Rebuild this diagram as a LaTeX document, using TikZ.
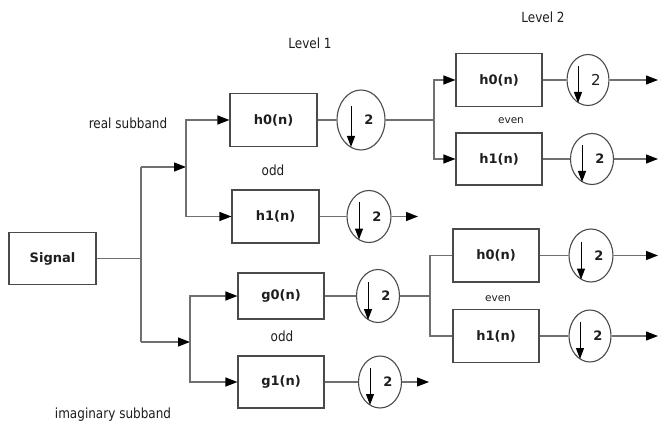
\documentclass[tikz,border=0pt]{standalone}
\usepackage{fontspec}
\setmainfont{DejaVu Sans}
\newfontfamily\lblfont[FakeStretch=0.86]{DejaVu Sans}
\usetikzlibrary{arrows.meta,shapes.geometric,calc}
\definecolor{boxgray}{HTML}{4A4A4A}
\definecolor{linegray}{HTML}{707070}
\definecolor{txt}{HTML}{1E1E1E}
\newcommand\downsym[3]{%
  \draw[dnarr] ($(#1.center)+(-10,-14)$) -- ($(#1.center)+(-10,#2)$);
  \node[twolbl,#3] (#1two) at ($(#1.center)+(8,0)$) {2};}
\begin{document}
\begin{tikzpicture}[x=1pt,y=-1pt,
  filt/.style={draw=boxgray, line width=1.1pt, minimum width=87pt, minimum height=53pt, inner sep=0pt, text=txt, font=\bfseries\fontsize{13}{15}\selectfont},
  dec/.style={ellipse, draw=boxgray, line width=1.1pt, minimum width=44pt, minimum height=53pt, inner sep=0pt},
  wire/.style={draw=linegray, line width=1.2pt},
  arr/.style={wire, -{Triangle[length=12pt,width=9pt,color=black]}},
  dnarr/.style={draw=black, line width=1pt, -{Triangle[length=11pt,width=8pt]}},
  twolbl/.style={inner sep=0pt, text=txt, font=\bfseries\fontsize{13}{15}\selectfont},
  lbl/.style={inner sep=0pt, text=txt, font=\lblfont\fontsize{14}{16}\selectfont},
  small/.style={inner sep=0pt, text=txt, font=\fontsize{10.5}{12}\selectfont}]
\fill[white] (0,0) rectangle (659,425);
\useasboundingbox (0,0) rectangle (659,425);

% labels
\node[lbl] (lev1) at (310,43) {Level 1};
\node[lbl] (lev2) at (543,17) {Level 2};
\node[lbl] (real) at (128,123) {real subband};
\node[lbl] (odd1) at (273,170) {odd};
\node[lbl] (odd2) at (282,336) {odd};
\node[small] (even1) at (511,121) {even};
\node[small] (even2) at (498,299) {even};
\node[lbl] (imag) at (113,415) {imaginary subband};

% boxes
\node[filt, minimum height=52pt] (sig) at (52.5,258.5) {Signal};
\node[filt] (h0a) at (273.5,120) {h0(n)};
\node[filt] (h1a) at (275.5,216.5) {h1(n)};
\node[filt, minimum width=86pt, minimum height=46pt] (g0) at (281,296) {g0(n)};
\node[filt, minimum width=86pt, minimum height=52pt] (g1) at (281,382) {g1(n)};
\node[filt, minimum width=86pt] (h0b) at (499,80) {h0(n)};
\node[filt, minimum width=86pt, minimum height=52pt] (h1b) at (499,159) {h1(n)};
\node[filt, minimum width=86pt] (h0c) at (496,255.5) {h0(n)};
\node[filt, minimum width=86pt] (h1c) at (496,336) {h1(n)};

% downsamplers
\node[dec, minimum width=48pt, minimum height=60pt] (da) at (361,120) {};
\node[dec, minimum height=52pt] (db) at (369,216.5) {};
\node[dec, minimum width=43pt] (dg0) at (378,296) {};
\node[dec, minimum width=43pt, minimum height=52pt] (dg1) at (380,382) {};
\node[dec, minimum width=42pt, minimum height=51pt] (dh0b) at (588,80) {};
\node[dec, minimum width=43pt, minimum height=51pt] (dh1b) at (592,159) {};
\node[dec] (dh0c) at (591,255.5) {};
\node[dec, minimum width=42pt, minimum height=52pt] (dh1c) at (590,336) {};

\downsym{da}{27}{}
\downsym{db}{23}{}
\downsym{dg0}{24}{}
\downsym{dg1}{23}{}
\downsym{dh0b}{23}{font=\fontsize{15}{17}\selectfont}
\downsym{dh1b}{23}{}
\downsym{dh0c}{24}{}
\downsym{dh1c}{23}{}

% junction coordinates
\coordinate (j0) at (141,258.5);
\coordinate (jr) at (141,167);
\coordinate (ji) at (141,342);
\coordinate (ka) at (186,167);
\coordinate (kb) at (190,342);
\coordinate (kc) at (434,120);
\coordinate (kd) at (430,296);
\coordinate (ea) at (418,216.5);
\coordinate (eb) at (429,382);
\coordinate (ec) at (658,80);
\coordinate (ed) at (658,159);
\coordinate (ee) at (658,255.5);
\coordinate (ef) at (658,336);

% connectors
\draw[wire] (sig.east) -- (j0);
\draw[wire] (jr) -- (ji);
\draw[arr] (jr) -- (ka);
\draw[arr] (ji) -- (kb);
\draw[arr] (ka) |- (h0a.west);
\draw[arr] (ka) |- (h1a.west);
\draw[arr] (kb) |- (g0.west);
\draw[arr] (kb) |- (g1.west);

\draw[wire] (h0a.east) -- (da.west);
\draw[wire] (da.east) -- (kc);
\draw[arr] (kc) |- (h0b.west);
\draw[arr] (kc) |- (h1b.west);

\draw[wire] (h1a.east) -- (db.west);
\draw[arr] (db.east) -- (ea);

\draw[wire] (g0.east) -- (dg0.west);
\draw[wire] (dg0.east) -- (kd);
\draw[wire] (kd) |- (h0c.west);
\draw[wire] (kd) |- (h1c.west);

\draw[wire] (g1.east) -- (dg1.west);
\draw[arr] (dg1.east) -- (eb);

\draw[wire] (h0b.east) -- (dh0b.west);
\draw[arr] (dh0b.east) -- (ec);
\draw[wire] (h1b.east) -- (dh1b.west);
\draw[arr] (dh1b.east) -- (ed);
\draw[wire] (h0c.east) -- (dh0c.west);
\draw[arr] (dh0c.east) -- (ee);
\draw[wire] (h1c.east) -- (dh1c.west);
\draw[arr] (dh1c.east) -- (ef);
\end{tikzpicture}
\end{document}
